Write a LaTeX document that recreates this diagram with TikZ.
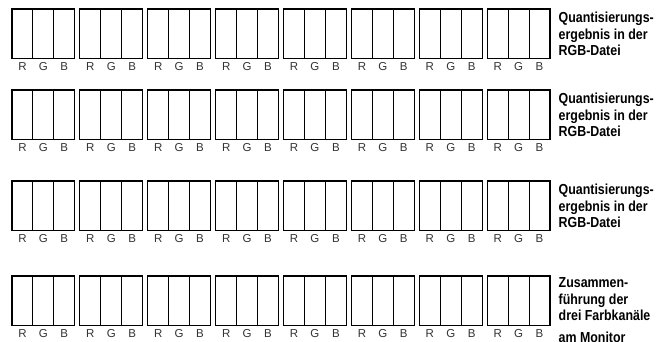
\documentclass[tikz,border=0pt]{standalone}
\usepackage{fontspec}
\setmainfont{Liberation Sans}
\newfontfamily\capfont[FakeStretch=0.855]{Liberation Sans}
\usetikzlibrary{positioning}

\begin{document}
\begin{tikzpicture}[
    x=1pt, y=-1pt,
    cell/.style={rectangle, draw=black, line width=1.1pt, minimum width=20.9pt, minimum height=49.5pt, inner sep=0pt, outer sep=0pt, anchor=north west},
    chan/.style={font=\fontsize{11.5}{13}\selectfont, text=black!80, inner sep=0pt, anchor=base},
    caption/.style={font=\capfont\bfseries\fontsize{14.5}{16.6}\selectfont, align=left, inner sep=0pt, anchor=north west},
]
\useasboundingbox (0,0) rectangle (671,342);

\foreach \row/\top in {1/9, 2/90, 3/181, 4/276} {
  \foreach \grp in {0,...,7} {
    \foreach \ch [count=\k from 0] in {R,G,B} {
      \pgfmathsetmacro{\xl}{12+67.9*\grp+20.9*\k}
      \node[cell] (cell-\row-\grp-\ch) at (\xl,\top) {};
      \node[chan] (lbl-\row-\grp-\ch) at ([yshift=-12.3pt]cell-\row-\grp-\ch.south) {\ch};
    }
  }
}

\node[caption] (cap-1) at (558.5,12) {Quantisierungs-\\ergebnis in der\\RGB-Datei};
\node[caption] (cap-2) at (558.5,93) {Quantisierungs-\\ergebnis in der\\RGB-Datei};
\node[caption] (cap-3) at (558.5,184) {Quantisierungs-\\ergebnis in der\\RGB-Datei};
\node[caption] (cap-4) at (558.5,277.5) {Zusammen-\\führung der\\drei Farbkanäle\\[5pt]am Monitor};

\end{tikzpicture}
\end{document}
